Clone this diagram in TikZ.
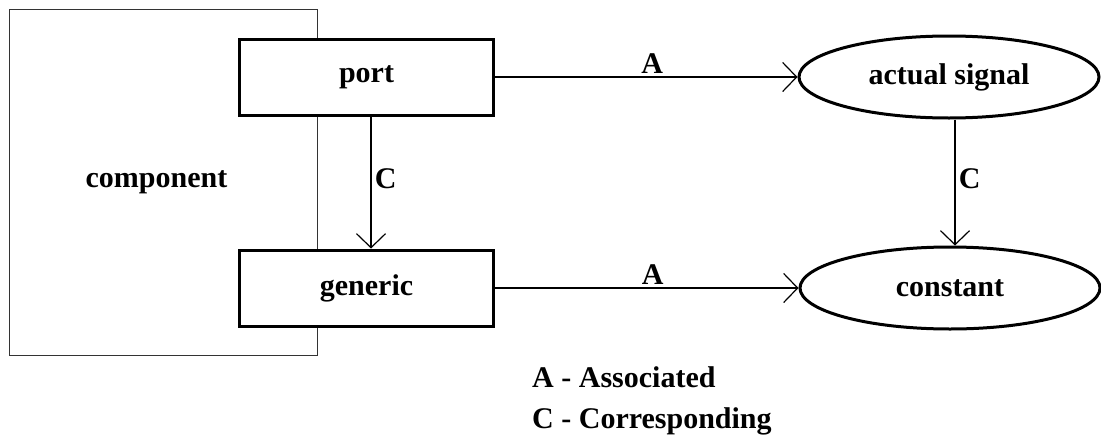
\documentclass[tikz,border=0pt]{standalone}
\usepackage{fontspec}
\setmainfont{Liberation Serif}
\usetikzlibrary{shapes.geometric,arrows.meta}

\tikzset{
  txt/.style={font=\fontsize{30}{36}\selectfont\bfseries},
  box/.style={txt, draw, line width=3pt, fill=white, rectangle,
              minimum width=254pt, minimum height=76pt, inner sep=0pt},
  oval/.style={txt, draw, line width=3pt, fill=white, ellipse,
               minimum width=300pt, minimum height=82pt, inner sep=0pt},
  link/.style={line width=1.3pt, -{Straight Barb[length=14pt,width=29pt,line width=1.2pt]}},
  lab/.style={txt}
}

\begin{document}
\begin{tikzpicture}[x=1pt,y=-1pt]
  \useasboundingbox (0,0) rectangle (1101,434);

  % enclosing component block
  \node[draw, line width=1.5pt, draw=black!80, rectangle, minimum width=308pt,
        minimum height=346pt, inner sep=0pt] (comp) at (163.5,182.5) {};
  \node[txt] (complabel) at ([xshift=-7pt]comp.center) {component};

  % interface elements
  \node[box] (port) at (366.5,77) {port};
  \node[box] (gen)  at (366.5,288) {generic};

  % environment elements
  \node[oval] (sig) at (949,77) {actual signal};
  \node[oval] (cst) at (950,288) {constant};

  % relations
  \draw[link] (port.east) -- node[lab, above, pos=0.52] {A} (sig.west);
  \draw[link] (gen.east)  -- node[lab, above, pos=0.52] {A} (cst.west);
  \draw[link] ([xshift=4.5pt]port.south) -- node[lab, right, pos=0.47] {C} ([xshift=4.5pt]gen.north);
  \draw[link] ([xshift=6pt]sig.south) -- node[lab, right, pos=0.47] {C} ([xshift=5pt]cst.north);

  % legend
  \node[txt, anchor=base west, inner sep=0pt] (legA) at (532,387) {A - Associated};
  \node[txt, anchor=base west, inner sep=0pt] (legC) at (532,428) {C - Corresponding};
\end{tikzpicture}
\end{document}
